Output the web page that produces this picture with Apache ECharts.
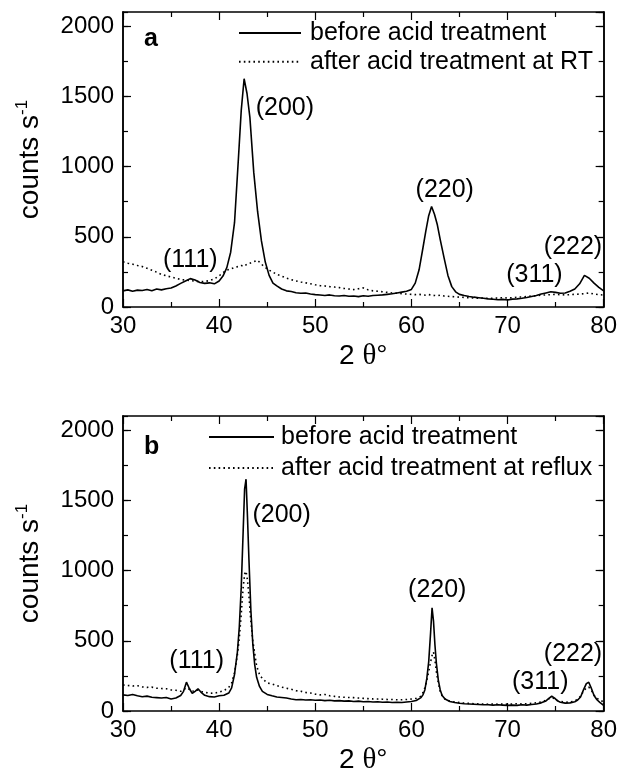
<!DOCTYPE html>
<html>
<head>
<meta charset="utf-8">
<script src="https://cdn.jsdelivr.net/npm/echarts@6.0.0/dist/echarts.min.js"></script>
<style>
  html, body { margin: 0; padding: 0; background: #fff; }
  #chart { width: 620px; height: 776px; }
</style>
</head>
<body>
<div id="chart"></div>
<script>
// XRD patterns, 2θ in degrees, intensity in counts per second

// Panel a: before / after acid treatment at room temperature
const twoThetaA = [
  30, 30.5, 31, 31.5, 32, 32.5, 33, 33.5, 34, 34.5, 35, 35.5, 36, 36.5, 37, 37.5, 38, 38.5, 39, 39.5, 40,
  40.4, 40.8, 41.2, 41.6, 42, 42.3, 42.6, 42.9, 43.2, 43.6, 44, 44.4, 44.8, 45.2, 45.6, 46,
  46.5, 47, 47.5, 48, 48.5, 49, 49.5, 50, 50.5, 51, 51.5, 52, 52.5, 53, 53.5, 54, 54.5, 55, 55.5, 56, 56.5, 57, 57.5, 58, 58.5, 59, 59.5, 60,
  60.4, 60.8, 61.2, 61.5, 61.8, 62.1, 62.4, 62.7, 63, 63.4, 63.8, 64.2, 64.6, 65,
  65.5, 66, 66.5, 67, 67.5, 68, 68.5, 69, 69.5, 70, 70.5, 71, 71.5, 72, 72.5, 73, 73.5, 74, 74.5, 75, 75.5, 76, 76.5, 77, 77.5, 78, 78.5, 79, 79.5, 80
];
const beforeA = [
  115, 122, 112, 120, 118, 125, 116, 128, 122, 130, 135, 150, 168, 185, 202, 192, 175, 168, 172, 165, 185,
  220, 280, 390, 600, 1050, 1400, 1625, 1520, 1350, 960, 680, 470, 320, 225, 170, 150,
  128, 115, 110, 102, 98, 100, 92, 88, 85, 82, 86, 80, 78, 82, 76, 78, 74, 80, 76, 82, 84, 86, 90, 94, 100, 106, 112, 125,
  170, 265, 420, 540, 650, 715, 660, 585, 480, 350, 225, 145, 108, 90,
  82, 75, 70, 66, 62, 58, 55, 52, 54, 50, 56, 58, 62, 68, 75, 82, 92, 100, 108, 104, 98, 100, 112, 128, 165, 225, 205, 170, 140, 115
];
const afterRT = [
  322, 312, 305, 296, 288, 275, 262, 248, 232, 222, 214, 205, 196, 192, 188, 184, 180, 182, 188, 200, 222,
  245, 262, 270, 282, 288, 295, 290, 305, 312, 322, 332, 305, 282, 262, 248, 232,
  220, 205, 195, 185, 178, 172, 165, 158, 152, 150, 145, 142, 138, 132, 128, 124, 130, 136, 122, 115, 112, 108, 104, 100, 98, 95, 92, 90,
  88, 90, 86, 84, 88, 85, 82, 80, 84, 78, 76, 74, 72, 70,
  68, 66, 64, 62, 64, 60, 62, 64, 66, 64, 66, 70, 72, 74, 78, 80, 84, 86, 88, 90, 88, 86, 88, 90, 92, 95, 100, 92, 88, 85
];

// Panel b: before / after acid treatment at reflux
const twoThetaB = [
  30, 30.5, 31, 31.5, 32, 32.5, 33, 33.5, 34, 34.5, 35, 35.5, 36, 36.3, 36.6, 36.9, 37.2, 37.5, 37.8, 38.1, 38.5, 39, 39.5, 40, 40.5, 41,
  41.3, 41.6, 41.9, 42.1, 42.3, 42.5, 42.65, 42.8, 42.95, 43.1, 43.3, 43.5, 43.7, 43.9, 44.2, 44.5, 45,
  45.5, 46, 46.5, 47, 47.5, 48, 48.5, 49, 49.5, 50, 50.5, 51, 51.5, 52, 52.5, 53, 53.5, 54, 54.5, 55, 55.5, 56, 56.5, 57, 57.5, 58, 58.5, 59, 59.5, 60, 60.5, 61,
  61.2, 61.4, 61.6, 61.8, 62, 62.15, 62.3, 62.45, 62.6, 62.8, 63, 63.2, 63.5, 64,
  64.5, 65, 65.5, 66, 66.5, 67, 67.5, 68, 68.5, 69, 69.5, 70, 70.5, 71, 71.5, 72, 72.5, 73, 73.5, 74,
  74.3, 74.6, 74.9, 75.2, 75.5, 76, 76.5, 77, 77.3, 77.6, 77.9, 78.2, 78.45, 78.7, 79, 79.3, 79.6, 80
];
const beforeB = [
  115, 110, 118, 108, 102, 106, 98, 95, 92, 96, 86, 92, 110, 140, 205, 160, 125, 140, 158, 135, 112, 102, 100, 108, 112, 128,
  165, 260, 420, 600, 880, 1280, 1580, 1650, 1380, 1080, 720, 480, 330, 240, 175, 140, 118,
  108, 100, 96, 92, 85, 80, 82, 78, 80, 76, 78, 74, 76, 72, 74, 70, 72, 68, 70, 66, 68, 64, 66, 62, 64, 60, 62, 60, 64, 68, 75, 95,
  115, 150, 230, 350, 560, 735, 640, 470, 340, 220, 150, 110, 85, 68,
  60, 55, 52, 50, 48, 46, 44, 45, 42, 44, 42, 40, 42, 40, 44, 42, 46, 50, 58, 72,
  90, 105, 92, 72, 62, 56, 58, 66, 78, 100, 150, 195, 205, 165, 110, 80, 62, 40
];
const afterReflux = [
  185, 182, 178, 180, 172, 168, 170, 162, 160, 158, 150, 148, 140, 150, 165, 155, 140, 145, 150, 140, 132, 128, 126, 135, 145, 168,
  200, 270, 400, 520, 690, 880, 975, 995, 930, 820, 640, 500, 410, 320, 260, 230, 200,
  192, 180, 170, 162, 155, 145, 140, 132, 128, 120, 115, 118, 108, 104, 100, 98, 96, 95, 92, 90, 88, 86, 85, 84, 82, 82, 80, 80, 82, 85, 90, 105,
  130, 165, 215, 280, 350, 395, 420, 360, 280, 200, 140, 105, 85, 70,
  64, 60, 56, 54, 52, 50, 50, 48, 50, 48, 50, 48, 50, 52, 50, 52, 55, 58, 64, 76,
  88, 95, 88, 75, 68, 62, 64, 72, 84, 105, 140, 165, 170, 150, 112, 90, 78, 65
];

// Reflection indices and where their captions sit (2θ, counts s^-1)
const peakNames = ['(111)', '(200)', '(220)', '(311)', '(222)'];
const peakCaptionA = [[37.0, 334], [46.84, 1413], [63.47, 832], [72.8, 228], [76.81, 429]];
const peakCaptionB = [[37.66, 355], [46.5, 1397], [62.69, 864], [73.4, 205], [76.81, 403]];

// Axis ticks
const xTicks = { min: 30, max: 80, major: 10 };
const yTicks = { min: 0, max: 2100, major: 500, minor: 250 };

const seriesNames = {
  before: 'before acid treatment',
  rt: 'after acid treatment at RT',
  reflux: 'after acid treatment at reflux'
};

const FONT = '"Liberation Sans", Arial, Helvetica, sans-serif';
const BLACK = '#000';

const zip = (xs, ys) => xs.map((x, i) => [x, ys[i]]);
const plain = (v) => String(v);

const grids = [
  { left: 123, top: 12, width: 481, height: 295 },
  { left: 123, top: 416, width: 481, height: 296 }
];

function xAxisPair(g) {
  const common = {
    gridIndex: g, type: 'value', min: xTicks.min, max: xTicks.max, interval: xTicks.major,
    axisLine: { show: true, onZero: false, lineStyle: { color: BLACK, width: 1.5 } },
    axisTick: { show: true, inside: true, length: 8, lineStyle: { color: BLACK, width: 1.2 } },
    minorTick: { show: true, splitNumber: 2, length: 5, lineStyle: { color: BLACK, width: 1.2 } },
    splitLine: { show: false }, minorSplitLine: { show: false }
  };
  return [
    Object.assign({}, common, {
      position: 'bottom',
      axisLabel: { color: BLACK, fontSize: 24, fontFamily: FONT, margin: 7, formatter: plain },
      name: '{m|2 }{t|θ}{m|°}',
      nameLocation: 'middle', nameGap: 35,
      nameTextStyle: {
        color: BLACK,
        rich: {
          m: { fontSize: 28, fontFamily: FONT, color: BLACK },
          t: { fontSize: 29, fontFamily: '"Liberation Serif", "DejaVu Serif", serif', color: BLACK }
        }
      }
    }),
    Object.assign({}, common, { position: 'top', axisLabel: { show: false } })
  ];
}

function yAxisSet(g) {
  const base = {
    gridIndex: g, type: 'value', min: yTicks.min, max: yTicks.max,
    splitLine: { show: false },
    axisLine: { show: true, onZero: false, lineStyle: { color: BLACK, width: 1.5 } }
  };
  const tick = (len) => ({ show: true, inside: true, length: len, lineStyle: { color: BLACK, width: 1.2 } });
  return [
    Object.assign({}, base, {
      position: 'left', interval: yTicks.major, axisTick: tick(8),
      axisLabel: { color: BLACK, fontSize: 24, fontFamily: FONT, margin: 9, showMaxLabel: false, formatter: plain },
      name: '{m|counts s}{s|-1}',
      nameLocation: 'middle', nameRotate: 90, nameGap: 77,
      nameTextStyle: {
        color: BLACK,
        rich: {
          m: { fontSize: 28, fontFamily: FONT, color: BLACK, lineHeight: 32 },
          s: { fontSize: 17, fontFamily: FONT, color: BLACK, verticalAlign: 'top', lineHeight: 32 }
        }
      }
    }),
    Object.assign({}, base, { position: 'left', interval: yTicks.minor, axisTick: tick(5), axisLabel: { show: false } }),
    Object.assign({}, base, { position: 'right', interval: yTicks.major, axisTick: tick(8), axisLabel: { show: false } }),
    Object.assign({}, base, { position: 'right', interval: yTicks.minor, axisTick: tick(5), axisLabel: { show: false } })
  ];
}

const solidStyle = { color: BLACK, width: 1.6 };
const dottedStyle = { color: BLACK, width: 1.6, type: [1.6, 3.2] };

function curve(name, xi, yi, xs, ys, style) {
  return {
    type: 'line', name, xAxisIndex: xi, yAxisIndex: yi,
    data: zip(xs, ys), symbol: 'none', showSymbol: false,
    lineStyle: style, itemStyle: { color: BLACK },
    silent: true, animation: false
  };
}

function captions(xi, yi, anchors) {
  return {
    type: 'scatter', xAxisIndex: xi, yAxisIndex: yi,
    data: anchors.map((p, i) => [p[0], p[1], peakNames[i]]),
    symbolSize: 1, itemStyle: { color: 'rgba(255,255,255,0)' }, silent: true, animation: false,
    label: {
      show: true, position: 'inside', formatter: (p) => p.value[2],
      color: BLACK, opacity: 1, textBorderWidth: 0, fontSize: 25, fontFamily: FONT
    }
  };
}

function legendFor(top, left, itemWidth, gap, pad, names) {
  return {
    data: names, top, left, orient: 'vertical', padding: 0,
    itemWidth, itemHeight: 14, itemGap: gap, selectedMode: false,
    itemStyle: { opacity: 0 },
    textStyle: { color: BLACK, fontSize: 25, fontFamily: FONT, lineHeight: 26, padding: [0, 0, 0, pad] }
  };
}

const chart = echarts.init(document.getElementById('chart'), null, { renderer: 'canvas' });
chart.setOption({
  animation: false,
  backgroundColor: '#fff',
  grid: grids,
  xAxis: [].concat(xAxisPair(0), xAxisPair(1)),
  yAxis: [].concat(yAxisSet(0), yAxisSet(1)),
  legend: [
    legendFor(20, 238, 62, 2.7, 4, [seriesNames.before, seriesNames.rt]),
    legendFor(424, 208, 65, 5, 2, [seriesNames.before, seriesNames.reflux])
  ],
  graphic: [
    { type: 'text', left: 144, top: 27, style: { text: 'a', font: 'bold 25px ' + FONT, fill: BLACK } },
    { type: 'text', left: 144, top: 435, style: { text: 'b', font: 'bold 25px ' + FONT, fill: BLACK } }
  ],
  series: [
    curve(seriesNames.before, 0, 0, twoThetaA, beforeA, solidStyle),
    curve(seriesNames.rt, 0, 0, twoThetaA, afterRT, dottedStyle),
    captions(0, 0, peakCaptionA),
    curve(seriesNames.before, 2, 4, twoThetaB, beforeB, solidStyle),
    curve(seriesNames.reflux, 2, 4, twoThetaB, afterReflux, dottedStyle),
    captions(2, 4, peakCaptionB)
  ]
});
</script>
</body>
</html>
